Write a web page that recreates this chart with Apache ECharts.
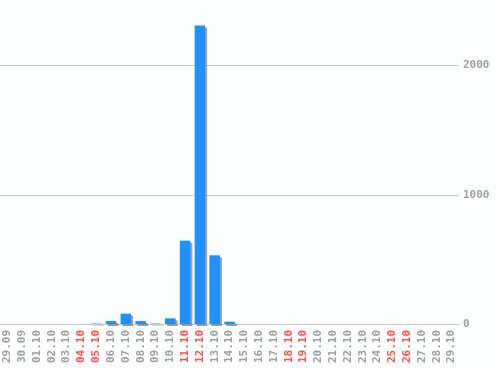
<!DOCTYPE html>
<html>
<head>
<meta charset="utf-8">
<script src="https://cdn.jsdelivr.net/npm/echarts@6/dist/echarts.min.js"></script>
<style>
html,body{margin:0;padding:0;background:#fcfdfd;}
#chart{width:498px;height:370px;}
</style>
</head>
<body>
<div id="chart"></div>
<script>
const categories = ['29.09','30.09','01.10','02.10','03.10','04.10','05.10','06.10','07.10','08.10','09.10','10.10','11.10','12.10','13.10','14.10','15.10','16.10','17.10','18.10','19.10','20.10','21.10','22.10','23.10','24.10','25.10','26.10','27.10','28.10','29.10'];
const values = [0,0,0,0,0,0,3,23,80,23,3,44,645,2310,532,18,0,0,0,0,0,0,0,0,0,0,0,0,0,0,0];
const weekends = ['04.10','05.10','11.10','12.10','18.10','19.10','25.10','26.10'];
const yTicks = [0,1000,2000];

const chart = echarts.init(document.getElementById('chart'));
chart.setOption({
  backgroundColor: '#fcfdfd',
  animation: false,
  grid: {left: -3, right: 39, top: 1, bottom: 46, containLabel: false},
  xAxis: {
    type: 'category',
    data: categories,
    axisTick: {show: false},
    axisLine: {lineStyle: {color: '#c8c8c8', width: 1}},
    axisLabel: {
      rotate: 90,
      interval: 0,
      margin: 6,
      padding: [5, 0, 0, 0],
      fontFamily: 'DejaVu Sans Mono',
      fontWeight: 'bold',
      fontSize: 11,
      color: function (v) { return weekends.indexOf(v) >= 0 ? '#ff5050' : '#a0a0a0'; }
    }
  },
  yAxis: {
    type: 'value',
    position: 'right',
    min: 0,
    max: 2500,
    interval: 1000,
    axisLine: {show: false},
    axisTick: {show: false},
    splitLine: {show: true, showMaxLine: false, lineStyle: {color: '#c8c8c8', width: 1}},
    axisLabel: {
      margin: 4,
      showMaxLabel: false,
      fontFamily: 'DejaVu Sans Mono',
      fontWeight: 'bold',
      fontSize: 11,
      color: '#a0a0a0',
      formatter: function (v) { return yTicks.indexOf(v) >= 0 ? String(v) : ''; }
    }
  },
  series: [{
    type: 'bar',
    data: values,
    barCategoryGap: '29%',
    itemStyle: {
      color: '#1e90ff',
      shadowColor: 'rgba(120,120,120,0.7)',
      shadowBlur: 0,
      shadowOffsetX: 2,
      shadowOffsetY: 2
    }
  }]
});
</script>
</body>
</html>
